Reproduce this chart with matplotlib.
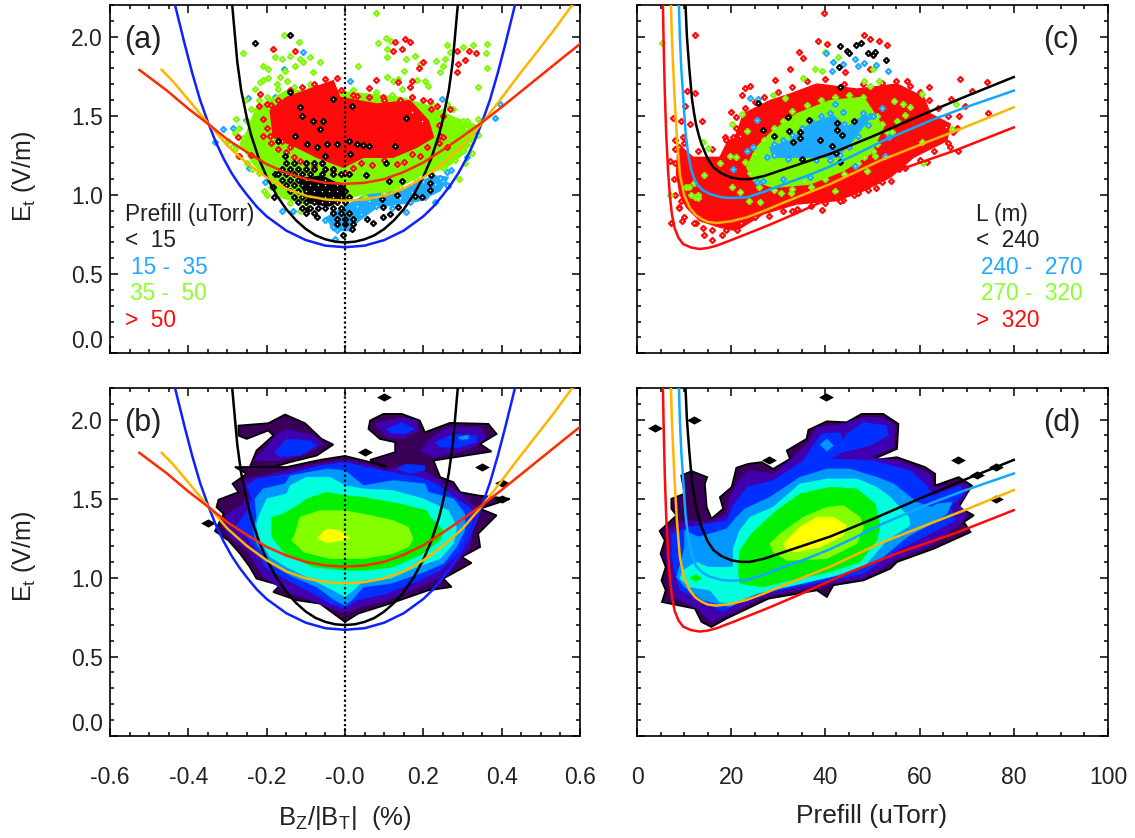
import numpy as np
import matplotlib
matplotlib.use("Agg")
import matplotlib.pyplot as plt
from matplotlib.ticker import MultipleLocator

plt.rcParams['font.family'] = ['Liberation Sans', 'DejaVu Sans']
plt.rcParams['mathtext.fontset'] = 'custom'
plt.rcParams['mathtext.rm'] = 'Liberation Sans'
plt.rcParams['mathtext.default'] = 'rm'

# colours
BLUE = '#1020ff'
AZURE = '#10a8ff'
SKY = '#1eaaff'
GREEN = '#7dfa00'
LIME = '#8cff2a'
RED = '#ff0a0a'
ORANGE = '#ffb400'
FITRED = '#ff2a00'
TXT = '#222222'
lev_cols = ['#3a0058', '#4000b0', '#0030ff', '#0098ff', '#00ffdc', '#00f000', '#84ff00', '#ffff00']

# fitted curves, panels a and b
bz_blue = [(-.434,2.2),(-.42,2.06),(-.41,1.96),(-.39,1.77),(-.37,1.6),(-.35,1.46),(-.33,1.335),(-.31,1.23),(-.29,1.14),(-.27,1.065),(-.25,1.0),(-.225,.925),(-.2,.865),(-.15,.775),(-.1,.715),(-.05,.68),(0,.67),
           (.05,.68),(.1,.715),(.15,.775),(.2,.865),(.225,.925),(.25,1.0),(.27,1.065),(.29,1.14),(.31,1.23),(.33,1.335),(.35,1.46),(.37,1.6),(.39,1.77),(.41,1.96),(.42,2.06),(.434,2.2)]
bz_black = [(-.288,2.2),(-.275,1.84),(-.265,1.66),(-.25,1.48),(-.24,1.38),(-.22,1.23),(-.2,1.115),(-.175,1.0),(-.15,.91),(-.125,.84),(-.1,.785),(-.075,.745),(-.05,.72),(-.025,.705),(0,.70),
            (.025,.705),(.05,.72),(.075,.745),(.1,.785),(.125,.84),(.15,.91),(.175,1.0),(.2,1.115),(.22,1.23),(.24,1.38),(.25,1.48),(.265,1.66),(.275,1.84),(.288,2.2)]
bz_orange = [(-.468,1.79),(-.44,1.72),(-.396,1.59),(-.345,1.44),(-.3,1.31),(-.25,1.2),(-.2,1.11),(-.15,1.04),(-.1,.995),(-.05,.972),(0,.964),(.05,.972),(.1,.995),(.15,1.04),(.2,1.11),(.25,1.2),(.3,1.31),(.345,1.44),(.396,1.60),(.44,1.745),(.481,1.875),(.53,2.03),(.579,2.196)]
bz_red = [(-.525,1.79),(-.455,1.66),(-.4,1.545),(-.345,1.44),(-.3,1.35),(-.25,1.27),(-.2,1.195),(-.15,1.14),(-.1,1.10),(-.05,1.077),(0,1.07),(.05,1.077),(.1,1.10),(.15,1.145),(.2,1.205),(.25,1.285),(.3,1.37),(.345,1.45),(.4,1.555),(.45,1.655),(.515,1.785),(.56,1.875),(.6,1.954)]

# fitted curves, panels c and d
pf_black = [(10.3,2.2),(10.6,2.0),(11.1,1.8),(11.7,1.6),(12.1,1.52),(12.5,1.45),(13.1,1.38),(13.7,1.32),(15,1.23),(16.2,1.175),(18,1.135),(20,1.11),(22,1.10),(24,1.10),(27,1.12),(30,1.15),(35,1.2),(41,1.26),(50,1.37),(60,1.50),(70,1.625),(80,1.745)]
pf_azure = [(8.9,2.2),(9.1,2.0),(9.4,1.8),(9.8,1.62),(10.3,1.4),(10.85,1.26),(11.6,1.15),(12.6,1.07),(14,1.03),(15.5,1.006),(18,.985),(20,.981),(23.3,.985),(27,1.02),(30.4,1.059),(36,1.12),(41,1.18),(46,1.25),(52.3,1.343),(62.3,1.47),(69.4,1.55),(80,1.659)]
pf_orange = [(7.2,2.2),(7.4,2.0),(7.7,1.8),(8,1.6),(8.5,1.35),(9.1,1.13),(10,1.0),(11.2,.92),(12.4,.875),(13.7,.848),(15,.83),(16.9,.823),(20,.834),(23.3,.859),(27,.9),(30.4,.943),(36,1.01),(41,1.069),(51.6,1.217),(62.3,1.343),(68.7,1.417),(80,1.554)]
pf_red = [(5.5,2.2),(5.7,1.9),(5.9,1.65),(6.2,1.385),(6.6,1.15),(7,.99),(7.4,.88),(8,.79),(8.8,.73),(9.8,.69),(11.5,.668),(13.3,.659),(15,.665),(16.9,.68),(20,.715),(23.3,.754),(28,.81),(33.9,.885),(44.5,1.027),(55.2,1.154),(67.9,1.285),(80,1.427)]

# scatter, panel a (coloured by prefill)
a_blue_core = [(-.047,.859),(-.004,.922),(.055,1.006),(.14,1.027),(.226,1.122),(.264,1.112),(.243,1.027),(.191,.964),(.14,.943),(.081,.922),(.047,.859),(.004,.775),(-.03,.775)]
a_blue = [(-.332,1.337),(-.311,1.417),(-.285,1.421),(-.254,1.474),(-.247,1.611),(-.245,1.168),(-.203,1.08),(-.162,.901),(-.132,.901),(-.026,.722),(.157,.891),(.23,.954),(.264,1.055),(.26,1.143),(.311,1.238),(.336,1.385),(.383,1.486),(.396,1.575),(.247,1.606),(.014,1.722),(-.106,1.901),(-.157,1.796),(-.179,1.617),(-.068,1.676),(.094,.933),(.166,.954),(.204,.985),(.243,1.11),
          (.17,1.02),(.2,1.08),(.23,1.07),(.25,1.09),(.26,1.06),(.14,.98),(.1,.97),(.06,.96),(.03,.93),(.04,.88),(0,.82),(-.03,.8),(-.05,.84),(-.03,.89),(0,.87),(.08,.93),(.12,.92),(.27,1.16),(-.02,.78),(.01,.79)]
a_green_core = [(-.251,1.396),(-.226,1.554),(-.149,1.659),(-.03,1.659),(.055,1.638),(.14,1.617),(.226,1.554),(.277,1.491),(.328,1.448),(.332,1.364),(.302,1.259),(.26,1.175),(.191,1.122),(.123,1.027),(.047,1.006),(-.013,.964),(-.098,.943),(-.166,.985),(-.2,1.112),(-.234,1.196),(-.268,1.322)]
a_green = [(.08,2.147),(-.155,2.008),(-.117,1.968),(-.26,1.895),(.034,1.817),(.362,1.954),(.36,1.895),(.363,1.802),(.326,1.949),(.302,1.933),(.261,1.949),(.255,1.859),(.232,1.844),(.251,1.817),(.243,1.779),(.34,1.68),(.268,1.901),
           (.083,1.958),(.105,1.992),(.117,1.975),(.108,1.922),(.106,1.869),(.156,1.859),(.179,1.88),(.191,1.827),(.151,1.785),(.136,1.733),(.106,1.743),(.123,1.722),(.145,1.669),(.183,1.726),(.213,1.69),(.205,1.72),
           (-.179,1.869),(-.162,1.859),(-.14,1.88),(-.115,1.859),(-.089,1.869),(-.064,1.838),(-.081,1.775),(-.106,1.838),(-.128,1.817),(-.153,1.785),(-.166,1.743),(-.209,1.817),(-.196,1.796),(-.209,1.726),(-.196,1.739),(-.217,1.712),(-.23,1.669),(-.255,1.6),(-.278,1.48),(-.174,1.70),(-.089,1.70),(-.149,1.722),
           (-.289,1.301),(-.272,1.248),(-.238,1.164),(-.207,1.027),(-.115,.901),(.323,1.263),(.306,1.2),(.292,1.101),(.34,1.48),(.311,1.47),(.26,1.575),(.277,1.543),
           (-.27,1.42),(-.26,1.36),(-.25,1.47),(-.24,1.54),(-.22,1.6),(-.2,1.62),(-.17,1.67),(-.13,1.68),(-.09,1.67),(-.05,1.68),(.02,1.66),(.08,1.65),(.12,1.63),(.17,1.62),(.22,1.58),(.25,1.53),(.3,1.47),(.33,1.43),(.31,1.42),(.34,1.38),(.32,1.33),(.3,1.28),(.28,1.22),(.25,1.17),(.22,1.14),(.18,1.1),(.14,1.05),(.1,1.01),(.05,.99),(0,.96),(-.05,.94),(-.1,.93),(-.14,.95),(-.17,1.0),(-.19,1.05),(-.22,1.14),(-.25,1.2),(-.28,1.29),(-.3,1.34),(-.28,1.39),(-.2,1.0)]
a_red_core = [(-.191,1.533),(-.149,1.617),(-.03,1.722),(-.013,1.617),(.081,1.575),(.166,1.596),(.213,1.469),(.226,1.364),(.183,1.301),(.123,1.238),(.047,1.238),(-.004,1.175),(-.072,1.238),(-.123,1.301),(-.183,1.364)]
a_red = [(-.185,1.922),(-.128,1.912),(.128,1.964),(.153,1.985),(.166,1.964),(.145,1.922),(.123,1.912),(.198,1.842),(.19,1.8),(.287,1.907),(.317,1.912),(.334,1.895),(.306,1.853),(.289,1.827),(.285,1.779),(.078,1.726),(.136,1.712),(.17,1.718),(.166,1.684),(.06,1.676),(.217,1.596),(.268,1.543),(.236,1.564),(.17,1.522),(.196,1.469),(.243,1.375),(.251,1.364),(.26,1.301),(.191,1.248),(.132,1.196),(-.115,1.217),(-.272,1.364),(-.27,1.248),(-.241,1.253),(-.191,1.375),(-.217,1.638),(-.2,1.575),(.098,1.617),(.03,1.627),
         (-.22,1.56),(-.21,1.48),(-.2,1.42),(-.19,1.33),(-.17,1.29),(-.15,1.27),(-.13,1.24),(-.1,1.2),(-.08,1.18),(-.06,1.2),(-.03,1.16),(0,1.14),(.02,1.17),(.04,1.2),(.07,1.19),(.1,1.22),(.15,1.21),(.17,1.26),(.21,1.3),(.24,1.33),(.24,1.44),(.25,1.5),(.22,1.54),(.2,1.6),(.17,1.62),(.14,1.6),(.1,1.6),(.06,1.62),(.02,1.63),(-.01,1.66),(-.02,1.74),(-.05,1.73),(-.08,1.7),(-.11,1.68),(-.14,1.66),(-.17,1.6),(-.19,1.57),(-.16,1.34),(-.14,1.3),(-.21,1.37)]
a_black_core = [(-.12,1.1),(-.06,1.12),(0,1.05),(0,.98),(-.04,.93),(-.09,.95)]
a_black = [(-.14,2.01),(-.23,1.958),(-.14,1.648),(-.031,1.606),(-.115,1.554),(.019,1.564),(-.111,1.501),(-.081,1.469),(-.055,1.469),(-.064,1.417),(-.128,1.375),(-.17,1.343),(.157,1.486),(.128,1.307),(.009,1.339),(.03,1.32),(.047,1.316),(.06,1.312),(.013,1.259),(-.098,1.322),(-.072,1.301),(-.047,1.322),(-.021,1.322),(-.153,1.248),(-.051,1.248),(.105,1.2),(.053,1.128),(.113,1.091),(.145,1.091),(.22,1.128),(.217,1.074),(.217,1.032),(.196,.989),(.179,.996),(.132,1.002),(.094,.975),(.098,.926),(.136,.922),(.115,.88),(.098,.859),(.055,.848),(.071,.821),(.017,.785),(-.004,.747),(-.181,.985),(-.183,1.048),(-.179,1.133),(-.072,.859),(-.094,.912)]
# the black clump below the centre, row by row
a_black_rows = [(1.20, [-.15,-.13,-.10,-.08,-.06]),
                (1.165, [-.16,-.14,-.12,-.10,-.08,-.05,-.03]),
                (1.13, [-.17,-.15,-.13,-.11,-.09,-.06,-.03,-.01,.01]),
                (1.095, [-.16,-.14,-.12,-.10,-.08,-.05]),
                (1.06, [-.15,-.13,-.11,-.09,-.07,-.05,-.02]),
                (1.025, [-.14,-.12,-.10,-.08,-.06,-.04,-.02,0]),
                (.99, [-.13,-.11,-.09,-.07,-.05,-.03,-.01,.01]),
                (.955, [-.12,-.10,-.08,-.06,-.04,-.02,0]),
                (.92, [-.11,-.09,-.07,-.05,-.03,-.01]),
                (.885, [-.10,-.08,-.03,-.01,.01]),
                (.85, [-.02,0,.02]),
                (.815, [-.02,0,.02])]

# scatter, panel c (coloured by length)
c_red_core = [(8.7,1.322),(11.9,1.238),(17.6,1.238),(19,1.322),(21.1,1.385),(22.6,1.512),(28.2,1.596),(32.5,1.638),(38.2,1.701),(46.7,1.669),(55.2,1.701),(60.9,1.617),(62.3,1.512),(66.5,1.448),(65.8,1.343),(58.7,1.238),(53.8,1.112),(48.1,1.027),(42.4,.964),(33.9,.943),(26.8,.88),(21.1,.775),(17.6,.796),(13.3,.838),(10.5,.922),(9.1,1.006),(8.4,1.133)]
c_red = [(39.6,2.147),(12.4,2.013),(48.1,2.011),(49.5,1.985),(53,1.949),(51.3,1.975),(38.5,1.97),(34.3,1.901),(35.3,1.865),(32.5,1.796),(29.4,1.726),(22.9,1.676),(24,1.69),(22.2,1.632),(10.6,1.659),(12.3,1.644),(10.1,1.564),(7.7,1.486),(9.4,1.469),(13.7,1.465),(11.2,1.448),(9.8,1.364),(8,1.29),(7.1,1.217),(7.3,.823),(9.6,.834),(8.9,.922),(9.4,.964),(14.2,.747),(16,.716),(21.3,.779),(12.6,.821),(33,.901),(39.2,.905),(43.8,.968),(47,1.011),(50.8,1.042),(55.7,1.164),(68.2,1.276),(61.9,1.68),(68.6,1.733),(74.3,1.712),(71.1,1.655),(66.7,1.606),(69.7,1.564),(68.3,1.501),(74.5,1.516),(65.5,1.427),(66.5,1.301),(61.6,1.206),(18.7,1.364),(20.4,1.364),(21.8,1.375),(21.1,1.49),(20,1.522),(57.3,1.722),(49.5,1.796),(44.2,1.775),(40.3,1.954),
         (8,1.35),(9,1.3),(8,1.2),(7.8,1.1),(8,1.0),(9,.92),(10,.86),(12,.82),(14,.79),(16,.78),(18,.75),(19,.78),(22,.82),(25,.86),(28,.87),(31,.9),(34,.91),(37,.93),(40,.95),(43,.96),(46,1.0),(49,1.03),(52,1.08),(54,1.09),(57,1.17),(60,1.22),(63,1.28),(66,1.33),(67,1.4),(68,1.42),(66,1.5),(64,1.55),(62,1.6),(60,1.65),(58,1.69),(55,1.72),(52,1.71),(48,1.7),(44,1.7),(40,1.73),(36,1.72),(33,1.68),(30,1.65),(27,1.62),(25,1.59),(23,1.55),(21,1.42),(19,1.35),(16,1.29),(13,1.28),(10,1.33)]
c_green_core = [(23.3,1.175),(25.4,1.301),(28.9,1.406),(33.9,1.512),(41,1.596),(48.1,1.617),(52.3,1.427),(49.5,1.259),(43.8,1.154),(36.7,1.069),(28.9,1.048),(24.7,1.091)]
c_green = [(5.3,1.958),(7,1),(12.4,.985),(10.5,1.048),(12.1,1.074),(14,1.333),(15.1,1.297),(14.2,1.128),(20.1,1.448),(22.2,1.512),(23.3,1.402),(28.9,1.634),(31.4,1.611),(35.3,1.739),(37.8,1.796),(39.2,1.785),(39.9,1.901),(42.6,1.869),(48.1,1.722),(49.5,1.69),(51.4,1.722),(60.5,1.638),(54.5,1.596),(56.5,1.575),(58,1.554),(55.2,1.469),(57,1.505),(67.8,1.575),(66.9,1.417),(60.5,1.333),(60.7,1.2),(54.1,1.396),(48.1,1.238),(48.8,1.154),(50.6,1.244),(42.1,1.027),(35.5,1.091),(32.7,1.011),(30.6,1.011),(26.1,.954),(23.8,.964),(21.8,1.017),(20.1,1.048),(17.6,1.2),(19.7,1.248),(21.1,1.238),(50.2,1.796),
           (24,1.14),(23,1.21),(25,1.26),(27,1.35),(29,1.42),(31,1.47),(33,1.53),(36,1.57),(39,1.6),(42,1.62),(45,1.63),(48,1.62),(51,1.5),(52,1.45),(53,1.4),(51,1.32),(50,1.28),(47,1.2),(44,1.13),(40,1.1),(37,1.05),(33,1.04),(29,1.03),(26,1.05),(11,1.05),(11.5,1.0),(13,1.0),(13,.98)]
c_blue_core = [(28.2,1.301),(32.5,1.343),(36.7,1.448),(41.7,1.501),(44.5,1.427),(48.1,1.501),(49.5,1.491),(45.2,1.322),(42.4,1.238),(36.7,1.238),(31.8,1.238),(28.9,1.238)]
c_blue = [(40.1,1.895),(41.7,1.838),(43.8,1.827),(41.3,1.781),(46.2,1.859),(48.1,1.834),(47,1.813),(50.8,1.821),(53.2,1.785),(24,1.613),(25.7,1.606),(25.4,1.476),(20.4,1.164),(25.4,1.08),(26.8,1.091),(31.1,1.101),(27.5,1.238),(36.7,1.112),(46.3,1.181),(52,1.547),(53.4,1.364),(52.7,1.248),(42,1.575),(43.8,1.522),(49.5,1.501),(23.3,1.28),(24.7,1.301),
          (29,1.32),(31,1.35),(33,1.38),(35,1.42),(37,1.47),(39,1.5),(41,1.52),(44,1.45),(46,1.47),(48,1.52),(50,1.5),(49,1.44),(47,1.37),(45,1.3),(43,1.25),(41,1.22),(38,1.22),(35,1.22),(32,1.23),(29,1.25)]
c_black = [(43.1,1.939),(46.5,1.947),(47.6,1.958),(44.5,1.912),(45,1.895),(49,1.897),(50.6,1.901),(50.1,1.884),(52.9,1.855),(42.8,1.806),(43,1.68),(25.7,1.579),(32.1,1.491),(36.5,1.476),(46,1.469),(26.8,1.411),(29.1,1.371),(32.3,1.406),(34.6,1.396),(42.4,1.453),(42.4,1.411),(43.5,1.379),(38.9,1.35),(34.6,1.358),(33.2,1.333),(41.3,1.312),(42.2,1.263),(35,1.227),(43,1.206)]

# density levels, panel b: (level, outline)
b_levels = [
    (0, [(0,1.77),(-.064,1.745),(-.149,1.70),(-.281,1.70),(-.251,1.657),(-.287,1.594),(-.272,1.541),(-.323,1.493),(-.328,1.446),(-.31,1.404),(-.332,1.295),(-.298,1.236),(-.268,1.152),(-.243,1.067),(-.226,.994),(-.166,.952),(-.183,.909),(-.123,.857),(-.064,.836),(0,.72),(.034,.773),(.115,.836),(.213,.92),(.272,.941),(.251,.994),(.323,1.093),(.298,1.131),(.345,1.194),(.34,1.278),(.387,1.394),(.345,1.436),(.421,1.499),(.34,1.52),(.294,1.541),(.277,1.604),(.243,1.636),(.226,1.741),(.374,1.798),(.345,1.846),(.387,1.909),(.366,1.973),(.268,1.979),(.204,1.92),(.191,1.994),(.145,2.036),(.098,2.036),(.064,1.994),(.06,1.941),(.089,1.878),(.128,1.857),(.128,1.794),(.064,1.745),(.106,1.70),(.064,1.731)]),
    (0, [(-.272,1.962),(-.196,1.977),(-.153,2.032),(-.102,1.977),(-.06,1.878),(-.03,1.842),(-.072,1.773),(-.14,1.731),(-.183,1.70),(-.243,1.70),(-.226,1.804),(-.183,1.899),(-.196,1.931),(-.251,1.878),(-.272,1.899)]),
    (1, [(0,1.745),(-.072,1.72),(-.149,1.678),(-.251,1.625),(-.268,1.583),(-.251,1.541),(-.26,1.467),(-.302,1.404),(-.311,1.32),(-.289,1.246),(-.251,1.173),(-.226,1.067),(-.209,1.004),(-.149,.909),(-.098,.867),(-.047,.815),(0,.773),(.038,.815),(.106,.857),(.191,.941),(.26,1.015),(.298,1.131),(.319,1.194),(.328,1.32),(.336,1.383),(.336,1.436),(.302,1.52),(.268,1.573),(.243,1.615),(.2,1.678),(.14,1.709),(.106,1.678),(.055,1.72)]),
    (1, [(-.234,1.741),(-.209,1.804),(-.174,1.909),(-.149,1.941),(-.081,1.899),(-.055,1.846),(-.098,1.783),(-.166,1.741)]),
    (1, [(.077,1.973),(.145,2.015),(.183,1.994),(.187,1.931),(.149,1.878),(.106,1.888)]),
    (1, [(.213,1.867),(.26,1.952),(.345,1.952),(.362,1.888),(.336,1.836),(.294,1.794),(.226,1.762),(.191,1.804)]),
    (2, [(0,1.731),(-.064,1.709),(-.145,1.657),(-.226,1.625),(-.251,1.583),(-.238,1.499),(-.251,1.415),(-.281,1.32),(-.251,1.257),(-.226,1.173),(-.204,1.067),(-.14,.973),(-.081,.899),(-.038,.836),(0,.804),(.03,.857),(.106,.899),(.191,.983),(.243,1.046),(.289,1.152),(.311,1.257),(.328,1.362),(.323,1.436),(.285,1.499),(.234,1.594),(.191,1.636),(.14,1.657),(.098,1.678),(.055,1.699)]),
    (2, [(-.179,1.794),(-.149,1.878),(-.089,1.867),(-.072,1.836),(-.115,1.773),(-.166,1.766)]),
    (2, [(.106,1.941),(.145,1.983),(.179,1.941),(.153,1.909),(.115,1.916)]),
    (2, [(.23,1.857),(.277,1.909),(.336,1.899),(.336,1.857),(.289,1.821),(.243,1.825)]),
    (2, [(.132,1.688),(.157,1.72),(.204,1.709),(.204,1.678),(.166,1.657)]),
    (3, [(.289,1.888),(.315,1.903),(.315,1.878),(.294,1.874)]),
    (3, [(0,1.678),(-.047,1.688),(-.14,1.646),(-.153,1.594),(-.209,1.562),(-.23,1.499),(-.226,1.383),(-.234,1.299),(-.226,1.215),(-.191,1.088),(-.132,1.004),(-.072,.941),(-.026,.857),(0,.825),(.017,.857),(.047,.941),(.115,.962),(.191,1.025),(.251,1.088),(.285,1.194),(.306,1.299),(.306,1.404),(.277,1.499),(.213,1.541),(.204,1.594),(.123,1.615),(.047,1.583)]),
    (4, [(0,1.583),(-.038,1.636),(-.098,1.636),(-.14,1.583),(-.149,1.531),(-.2,1.499),(-.221,1.383),(-.226,1.331),(-.217,1.236),(-.191,1.131),(-.149,1.067),(-.081,.983),(-.03,.92),(0,.878),(.021,.92),(.047,.983),(.115,.994),(.183,1.067),(.243,1.12),(.277,1.215),(.285,1.32),(.264,1.425),(.2,1.499),(.123,1.552),(.047,1.562)]),
    (5, [(0,1.52),(-.047,1.541),(-.098,1.499),(-.115,1.467),(-.157,1.404),(-.187,1.383),(-.187,1.257),(-.153,1.152),(-.081,1.067),(0,1.046),(.055,1.046),(.123,1.067),(.191,1.141),(.243,1.236),(.251,1.299),(.217,1.383),(.209,1.425),(.14,1.467),(.047,1.509)]),
    (6, [(0,1.425),(-.064,1.425),(-.115,1.383),(-.128,1.278),(-.136,1.236),(-.106,1.162),(-.038,1.12),(.047,1.12),(.123,1.152),(.162,1.194),(.174,1.246),(.162,1.32),(.123,1.362),(.064,1.394)]),
    (7, [(-.047,1.309),(-.013,1.299),(.004,1.267),(.014,1.251),(-.004,1.236),(-.047,1.219),(-.071,1.251)]),
]
b_single = [(-.351,1.345),(.1,2.145),(.051,1.798),(.351,1.699),(.4,1.598),(.4,1.499)]

# density levels, panel d
d_levels = [
    (0, [(4.8,1.295),(5.9,1.236),(5,1.152),(6.1,1.067),(5.2,.983),(6.1,.92),(5.3,.846),(12.3,.804),(13.7,.72),(15.8,.688),(19,.741),(27.9,.867),(38.2,.92),(40.3,.878),(41.7,.952),(48.1,.983),(53.8,1.057),(55.2,1.099),(63,1.183),(70.8,1.288),(69.4,1.352),(71.5,1.394),(68.3,1.446),(69.4,1.499),(71.1,1.583),(68.3,1.636),(63.3,1.583),(63.3,1.657),(61.2,1.699),(55.2,1.762),(49.5,1.741),(55.2,1.815),(55.5,1.973),(52.3,2.036),(47.7,2.036),(44.5,1.983),(40.3,1.989),(36.4,1.935),(36,1.878),(31.8,1.804),(32.5,1.752),(28.9,1.688),(26.5,1.731),(23.6,1.72),(21.1,1.695),(20.1,1.573),(17.6,1.509),(18.3,1.436),(15.8,1.373),(14.8,1.446),(14.4,1.594),(14.9,1.636),(11.6,1.674),(9.4,1.646),(10.1,1.531),(7.3,1.499),(7.3,1.436),(8.4,1.394)]),
    (1, [(6.2,1.299),(10.1,1.362),(15.1,1.352),(19,1.404),(19.7,1.509),(21.5,1.615),(24,1.678),(28.9,1.657),(33.2,1.762),(36.4,1.857),(38.2,1.952),(43.8,1.973),(48.1,2.015),(52,2.015),(54.8,1.962),(54.5,1.825),(49.5,1.762),(55.2,1.741),(62.3,1.657),(63,1.573),(70.1,1.594),(70.1,1.531),(68.3,1.467),(70.1,1.394),(68.7,1.341),(62.3,1.204),(55.2,1.12),(48.1,.994),(41,.962),(26.8,.878),(19,.762),(15.5,.72),(13.3,.794),(7.7,.878),(7,.962),(6.6,1.046),(6.2,1.131),(7,1.215)]),
    (2, [(7.3,1.278),(10.9,1.32),(19,1.362),(20.4,1.457),(23.3,1.573),(28.9,1.615),(35.3,1.741),(37.1,1.825),(39.2,1.909),(43.1,1.92),(43.8,1.867),(44.5,1.909),(48.1,1.983),(53,1.962),(53.4,1.899),(49.5,1.836),(43.8,1.794),(41,1.752),(50.2,1.741),(58,1.678),(61.2,1.594),(63,1.52),(68.7,1.583),(69.4,1.531),(66.5,1.446),(67.6,1.362),(62.3,1.278),(55.2,1.173),(48.1,1.025),(33.9,.941),(23.3,.878),(18.3,.783),(13.7,.857),(9.1,.92),(8,1.025),(7.3,1.152)]),
    (3, [(38.9,1.842),(40.3,1.878),(41.7,1.836),(40.3,1.8)]),
    (3, [(10.1,1.299),(13,1.257),(19,1.309),(21.1,1.383),(22.9,1.436),(28.2,1.509),(34.6,1.636),(40.3,1.688),(45.2,1.688),(50.9,1.636),(54.5,1.594),(59.4,1.478),(62.3,1.446),(63.7,1.467),(66.9,1.478),(65.8,1.404),(62.6,1.341),(57.3,1.257),(52.3,1.131),(44.5,1.025),(33.9,.962),(25.4,.899),(19.7,.815),(14,.857),(10.1,.941),(8.4,1.004),(9.4,1.109),(10.1,1.194)]),
    (4, [(12.6,1.099),(15.1,1.067),(20.4,1.067),(20.4,1.183),(21.8,1.299),(24,1.383),(28.9,1.446),(34.6,1.594),(40.3,1.625),(46.7,1.625),(50.9,1.573),(53.8,1.509),(57.7,1.383),(58,1.331),(53,1.236),(48.1,1.067),(41,1.004),(31.8,.941),(25.4,.899),(20.4,.836),(17.6,.846),(15.5,.92),(11.2,.941),(9.1,.994),(9.8,1.046)]),
    (5, [(11.2,1),(12.6,1.021),(13.7,.994),(12.3,.973)]),
    (5, [(21.5,1.046),(21.8,1.173),(24.3,1.278),(29.6,1.425),(34.6,1.531),(41,1.573),(46.7,1.562),(50.6,1.467),(51.6,1.32),(50.9,1.236),(47.4,1.099),(41,1.036),(32.5,.983),(26.8,.941),(21.8,.962)]),
    (6, [(28.2,1.215),(30.4,1.278),(35.3,1.383),(40.3,1.446),(43.8,1.457),(47.4,1.383),(48.1,1.32),(46.7,1.215),(40.3,1.12),(31.8,1.109),(28.9,1.162)]),
    (7, [(31.1,1.215),(34.6,1.32),(38.2,1.383),(41.7,1.383),(44.5,1.331),(43.8,1.267),(38.9,1.194),(33.9,1.162),(31.8,1.173)]),
]
d_single = [(3.9,1.947),(12.1,1.998),(40.1,2.145),(28.1,1.747),(68.1,1.747),(72.2,1.651),(76.2,1.699),(76.2,1.499)]

bz_ticks = [-.6, -.4, -.2, 0, .2, .4, .6]
bz_labels = ['-0.6', '-0.4', '-0.2', '-0.0', '0.2', '0.4', '0.6']
pf_ticks = [0, 20, 40, 60, 80, 100]
et_ticks = [0, .5, 1, 1.5, 2]
et_labels = ['0.0', '0.5', '1.0', '1.5', '2.0']

W, H = 1135, 838
fig = plt.figure(figsize=(W / 100, H / 100), dpi=100)


def make_ax(left, top, right, bottom):
    return fig.add_axes([left / W, 1 - bottom / H, (right - left) / W, (bottom - top) / H])


def style(ax, xticks, xlabels, xminor, xlim):
    ax.set_xlim(*xlim)
    ax.set_ylim(0, 2.2)
    ax.set_xticks(xticks)
    ax.set_xticklabels(xlabels)
    ax.xaxis.set_minor_locator(MultipleLocator(xminor))
    ax.yaxis.set_minor_locator(MultipleLocator(0.1))
    ax.tick_params(which='both', direction='in', top=True, right=True, width=1.1, colors='black', labelcolor=TXT, labelsize=16.5)
    ax.tick_params(which='major', length=6)
    ax.tick_params(which='minor', length=3)
    ax.tick_params(axis='x', pad=22)
    ax.tick_params(axis='y', pad=5)
    for s in ax.spines.values():
        s.set_linewidth(1.2)


def points(ax, pts, col, z):
    xy = np.array(pts).T
    ax.scatter(xy[0], xy[1], marker='D', s=6.5, facecolor='white', edgecolor=col, linewidth=1.6, zorder=z)


def core(ax, pts, col, z):
    xy = np.array(pts).T
    ax.fill(xy[0], xy[1], color=col, lw=1, zorder=z)


def curve(ax, pts, col, lw=1.8):
    xy = np.array(pts).T
    ax.plot(xy[0], xy[1], color=col, lw=lw, zorder=8, solid_joinstyle='round')


def density(ax, levels, single):
    for lev, pts in levels:
        xy = np.array(pts).T
        ec = 'black' if lev == 0 else lev_cols[lev]
        lw = 1.3 if lev == 0 else 0.3
        ax.fill(xy[0], xy[1], facecolor=lev_cols[lev], edgecolor=ec, lw=lw, zorder=2 + lev * 0.1)
    xy = np.array(single).T
    ax.scatter(xy[0], xy[1], marker=[(-1, 0), (0, .55), (1, 0), (0, -.55)], s=115, color='black', lw=0, zorder=2)


def row_text(ax, x, y, s, col, size=16.3):
    ax.text(x, y, s, color=col, fontsize=size, va='center', ha='left', zorder=9)


ax_a = make_ax(110, 5, 580, 353.3)
ax_b = make_ax(110, 388, 580, 735.7)
ax_c = make_ax(637, 5, 1108, 353.3)
ax_d = make_ax(637, 388, 1108, 735.7)

for ax in (ax_a, ax_b):
    style(ax, bz_ticks, bz_labels, 0.05, (-.6, .6))
    ax.axvline(0, color='black', lw=1.6, ls=(0, (1, 1.2)), zorder=7)
for ax in (ax_c, ax_d):
    style(ax, pf_ticks, [str(t) for t in pf_ticks], 5, (0, 100))

for ax in (ax_a, ax_b, ax_c, ax_d):
    ax.set_yticks(et_ticks)
    ax.set_yticklabels(et_labels)
    ax.get_yticklabels()[0].set_va('bottom')

ax_a.tick_params(axis='x', labelbottom=False)
ax_c.tick_params(axis='x', labelbottom=False)
ax_c.tick_params(axis='y', labelleft=False)
ax_d.tick_params(axis='y', labelleft=False)

# panel a
core(ax_a, a_blue_core, SKY, 3)
points(ax_a, a_blue, SKY, 3)
core(ax_a, a_green_core, GREEN, 4)
points(ax_a, a_green, GREEN, 4)
core(ax_a, a_red_core, RED, 5)
points(ax_a, a_red, RED, 5)
core(ax_a, a_black_core, 'black', 6)
points(ax_a, a_black, 'black', 6)
for y, xs in a_black_rows:
    points(ax_a, [(x, y) for x in xs], 'black', 6)

# panel c
core(ax_c, c_red_core, RED, 3)
points(ax_c, c_red, RED, 3)
core(ax_c, c_green_core, GREEN, 4)
points(ax_c, c_green, GREEN, 4)
core(ax_c, c_blue_core, SKY, 5)
points(ax_c, c_blue, SKY, 5)
points(ax_c, c_black, 'black', 6)

density(ax_b, b_levels, b_single)
density(ax_d, d_levels, d_single)

for ax in (ax_a, ax_b):
    curve(ax, bz_blue, BLUE)
    curve(ax, bz_black, 'black')
    curve(ax, bz_orange, ORANGE)
    curve(ax, bz_red, FITRED)
for ax in (ax_c, ax_d):
    curve(ax, pf_black, 'black')
    curve(ax, pf_azure, AZURE)
    curve(ax, pf_orange, ORANGE)
    curve(ax, pf_red, RED)

# legend rows, panel a
row_text(ax_a, -.562, .875, 'Prefill (uTorr)', TXT)
row_text(ax_a, -.562, .71, '<  15', TXT)
row_text(ax_a, -.547, .545, '15 -  35', SKY)
row_text(ax_a, -.55, .38, '35 -  50', LIME)
row_text(ax_a, -.562, .21, '>  50', RED)

# legend rows, panel c
row_text(ax_c, 72, .875, 'L (m)', TXT)
row_text(ax_c, 72, .71, '<  240', TXT)
row_text(ax_c, 73, .545, '240 -  270', SKY)
row_text(ax_c, 73, .38, '270 -  320', LIME)
row_text(ax_c, 72, .21, '>  320', RED)

for ax, lab, x in ((ax_a, '(a)', -.565), (ax_b, '(b)', -.565), (ax_c, '(c)', 86.2), (ax_d, '(d)', 86.2)):
    ax.text(x, 1.98, lab, color=TXT, fontsize=22, va='center', ha='left', zorder=9)

fig.text(24 / W, 1 - 176 / H, r'E$_{\mathrm{t}}$ (V/m)', rotation=90, color=TXT, fontsize=18, ha='center', va='center')
fig.text(24 / W, 1 - 556 / H, r'E$_{\mathrm{t}}$ (V/m)', rotation=90, color=TXT, fontsize=18, ha='center', va='center')
fig.text(345 / W, 1 - 818 / H, r'B$_{\mathrm{Z}}$/|B$_{\mathrm{T}}$|  (%)', color=TXT, fontsize=18.5, ha='center', va='center')
fig.text(872 / W, 1 - 816 / H, 'Prefill (uTorr)', color=TXT, fontsize=19, ha='center', va='center')

fig.savefig('out.png', dpi=100)
